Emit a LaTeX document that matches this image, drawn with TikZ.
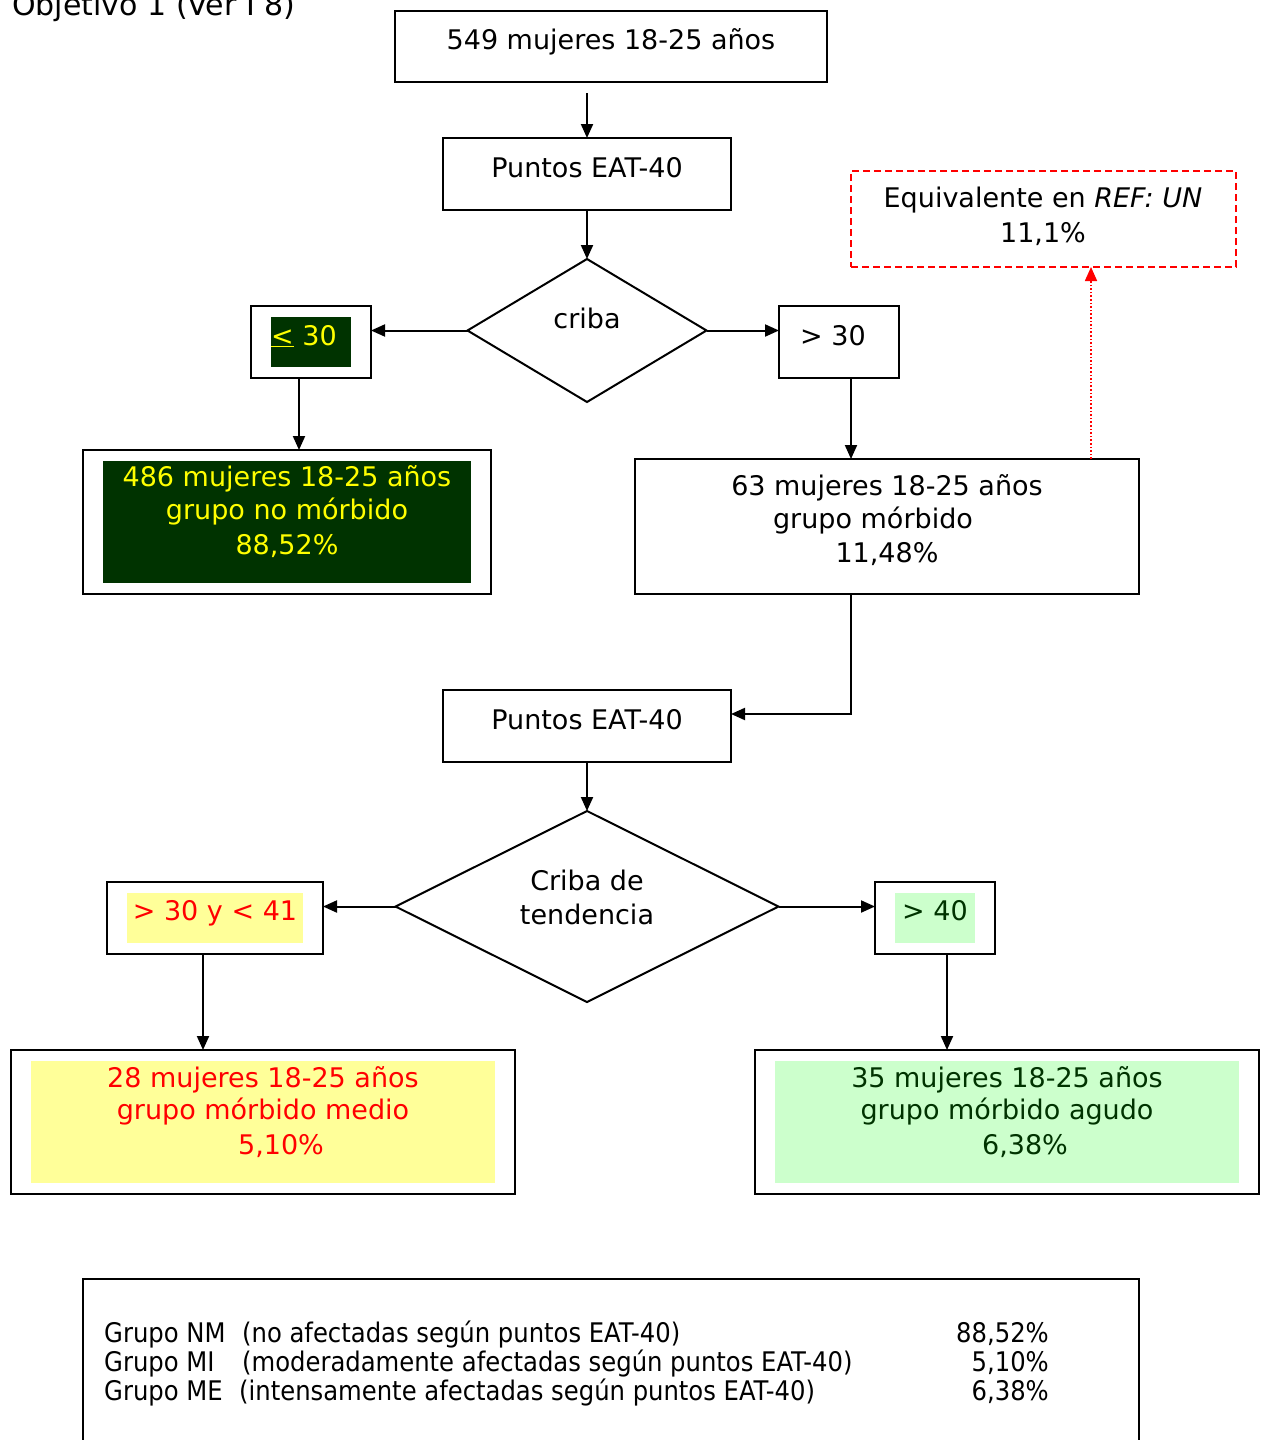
\documentclass[tikz,border=0pt]{standalone}
\usepackage{fontspec}
\setmainfont{DejaVu Sans}
\newfontfamily\legendfont{DejaVu Sans Condensed}
\usetikzlibrary{arrows.meta,shapes.geometric}
\definecolor{deepgreen}{HTML}{003300}
\definecolor{brightyellow}{HTML}{FFFF00}
\definecolor{paleyellow}{HTML}{FFFF99}
\definecolor{palegreen}{HTML}{CCFFCC}
\definecolor{alertred}{HTML}{FF0000}
\tikzset{
  box/.style={draw, line width=2pt, inner sep=0pt, outer sep=0pt, rectangle},
  fillbox/.style={draw=none, inner sep=0pt, outer sep=0pt, rectangle},
  decision/.style={draw, line width=2pt, diamond, inner sep=0pt, outer sep=0pt},
  arr/.style={line width=2pt, -{Triangle[length=14pt,width=12pt]}},
  txt/.style={anchor=base, inner sep=0pt, font=\fontsize{27}{32}\selectfont},
  legtxt/.style={inner sep=0pt, font=\legendfont\fontsize{27}{32}\selectfont},
}
\begin{document}
\begin{tikzpicture}[x=1pt, y=-1pt]
\useasboundingbox (0,0) rectangle (1261,1440);

% title
\node[txt, anchor=base west, font=\fontsize{30}{36}\selectfont] (title) at (12,16) {Objetivo 1 (Ver I 8)};

% first stage
\node[box, minimum width=432pt, minimum height=71pt] (start) at (611,46.5) {};
\node[txt] (startT) at (611,49) {549 mujeres 18-25 años};

\node[box, minimum width=288pt, minimum height=72pt] (pts1) at (587,174) {};
\node[txt] (pts1T) at (587,177) {Puntos EAT-40};

\node[decision, minimum width=239pt, minimum height=143pt] (d1) at (587,330.5) {};
\node[txt] (d1T) at (587,328) {criba};

\node[box, minimum width=120pt, minimum height=72pt] (le) at (311,342) {};
\node[fillbox, fill=deepgreen, minimum width=80pt, minimum height=50pt] (leF) at (311,342) {};
\node[txt, text=brightyellow] (leT) at (304,345) {\underline{<} 30};

\node[box, minimum width=120pt, minimum height=72pt] (gt) at (839,342) {};
\node[txt] (gtT) at (833,345) {> 30};

\node[box, minimum width=408pt, minimum height=144pt] (nm) at (287,522) {};
\node[fillbox, fill=deepgreen, minimum width=368pt, minimum height=122pt] (nmF) at (287,522) {};
\node[txt, text=brightyellow] (nmT1) at (287,486) {486 mujeres 18-25 años};
\node[txt, text=brightyellow] (nmT2) at (287,519) {grupo no mórbido};
\node[txt, text=brightyellow] (nmT3) at (287,554) {88,52\%};

\node[box, minimum width=504pt, minimum height=135pt] (mo) at (887,526.5) {};
\node[txt] (moT1) at (887,495) {63 mujeres 18-25 años};
\node[txt] (moT2) at (873,528) {grupo mórbido};
\node[txt] (moT3) at (887,562) {11,48\%};

\node[box, line width=1.6pt, draw=alertred, dash pattern=on 7pt off 4pt, minimum width=385pt, minimum height=96pt] (eq) at (1043.5,219) {};
\node[txt] (eqT1) at (1043,207) {Equivalente en \textit{REF: UN}};
\node[txt] (eqT2) at (1043,242) {11,1\%};

% second stage
\node[box, minimum width=288pt, minimum height=72pt] (pts2) at (587,726) {};
\node[txt] (pts2T) at (587,729) {Puntos EAT-40};

\node[decision, minimum width=383pt, minimum height=191pt] (d2) at (587,906.5) {};
\node[txt] (d2T1) at (587,890) {Criba de};
\node[txt] (d2T2) at (587,924) {tendencia};

\node[box, minimum width=216pt, minimum height=72pt] (mid) at (215,918) {};
\node[fillbox, fill=paleyellow, minimum width=176pt, minimum height=50pt] (midF) at (215,918) {};
\node[txt, text=alertred] (midT) at (215,920) {> 30 y < 41};

\node[box, minimum width=120pt, minimum height=72pt] (hi) at (935,918) {};
\node[fillbox, fill=palegreen, minimum width=80pt, minimum height=50pt] (hiF) at (935,918) {};
\node[txt, text=deepgreen] (hiT) at (935,920) {> 40};

\node[box, minimum width=504pt, minimum height=144pt] (mi) at (263,1122) {};
\node[fillbox, fill=paleyellow, minimum width=464pt, minimum height=122pt] (miF) at (263,1122) {};
\node[txt, text=alertred] (miT1) at (263,1087) {28 mujeres 18-25 años};
\node[txt, text=alertred] (miT2) at (263,1119) {grupo mórbido medio};
\node[txt, text=alertred] (miT3) at (281,1154) {5,10\%};

\node[box, minimum width=504pt, minimum height=144pt] (me) at (1007,1122) {};
\node[fillbox, fill=palegreen, minimum width=464pt, minimum height=122pt] (meF) at (1007,1122) {};
\node[txt, text=deepgreen] (meT1) at (1007,1087) {35 mujeres 18-25 años};
\node[txt, text=deepgreen] (meT2) at (1007,1119) {grupo mórbido agudo};
\node[txt, text=deepgreen] (meT3) at (1025,1154) {6,38\%};

% legend
\node[box, anchor=north, minimum width=1056pt, minimum height=200pt] (leg) at (611,1279) {};
\node[legtxt, anchor=base west] (l1a) at (104,1342) {Grupo NM};
\node[legtxt, anchor=base west] (l1b) at (242,1342) {(no afectadas según puntos EAT-40)};
\node[legtxt, anchor=base east] (l1c) at (1049,1342) {88,52\%};
\node[legtxt, anchor=base west] (l2a) at (104,1371) {Grupo MI};
\node[legtxt, anchor=base west] (l2b) at (242,1371) {(moderadamente afectadas según puntos EAT-40)};
\node[legtxt, anchor=base east] (l2c) at (1049,1371) {5,10\%};
\node[legtxt, anchor=base west] (l3a) at (104,1400) {Grupo ME};
\node[legtxt, anchor=base west] (l3b) at (239,1400) {(intensamente afectadas según puntos EAT-40)};
\node[legtxt, anchor=base east] (l3c) at (1049,1400) {6,38\%};

% connectors
\draw[arr, shorten <=11pt] (start.south -| pts1.north) -- (pts1.north);
\draw[arr] (pts1.south) -- (d1.north);
\draw[arr] (d1.west) -- (d1.west -| le.east);
\draw[arr] (d1.east) -- (d1.east -| gt.west);
\draw[arr] ([xshift=-12pt]le.south) -- ([xshift=-12pt]le.south |- nm.north);
\draw[arr] ([xshift=12pt]gt.south) -- ([xshift=12pt]gt.south |- mo.north);
\draw[line width=1.6pt, alertred, dotted, -{Triangle[length=14pt,width=12pt]}]
  ([xshift=204pt]mo.north) -- ([xshift=204pt]mo.north |- eq.south);
\draw[arr] ([xshift=-36pt]mo.south) |- ([yshift=12pt]pts2.east);
\draw[arr] (pts2.south) -- (d2.north);
\draw[arr] (d2.west) -- (d2.west -| mid.east);
\draw[arr] (d2.east) -- (d2.east -| hi.west);
\draw[arr] ([xshift=-12pt]mid.south) -- ([xshift=-12pt]mid.south |- mi.north);
\draw[arr] ([xshift=12pt]hi.south) -- ([xshift=12pt]hi.south |- me.north);
\end{tikzpicture}
\end{document}
